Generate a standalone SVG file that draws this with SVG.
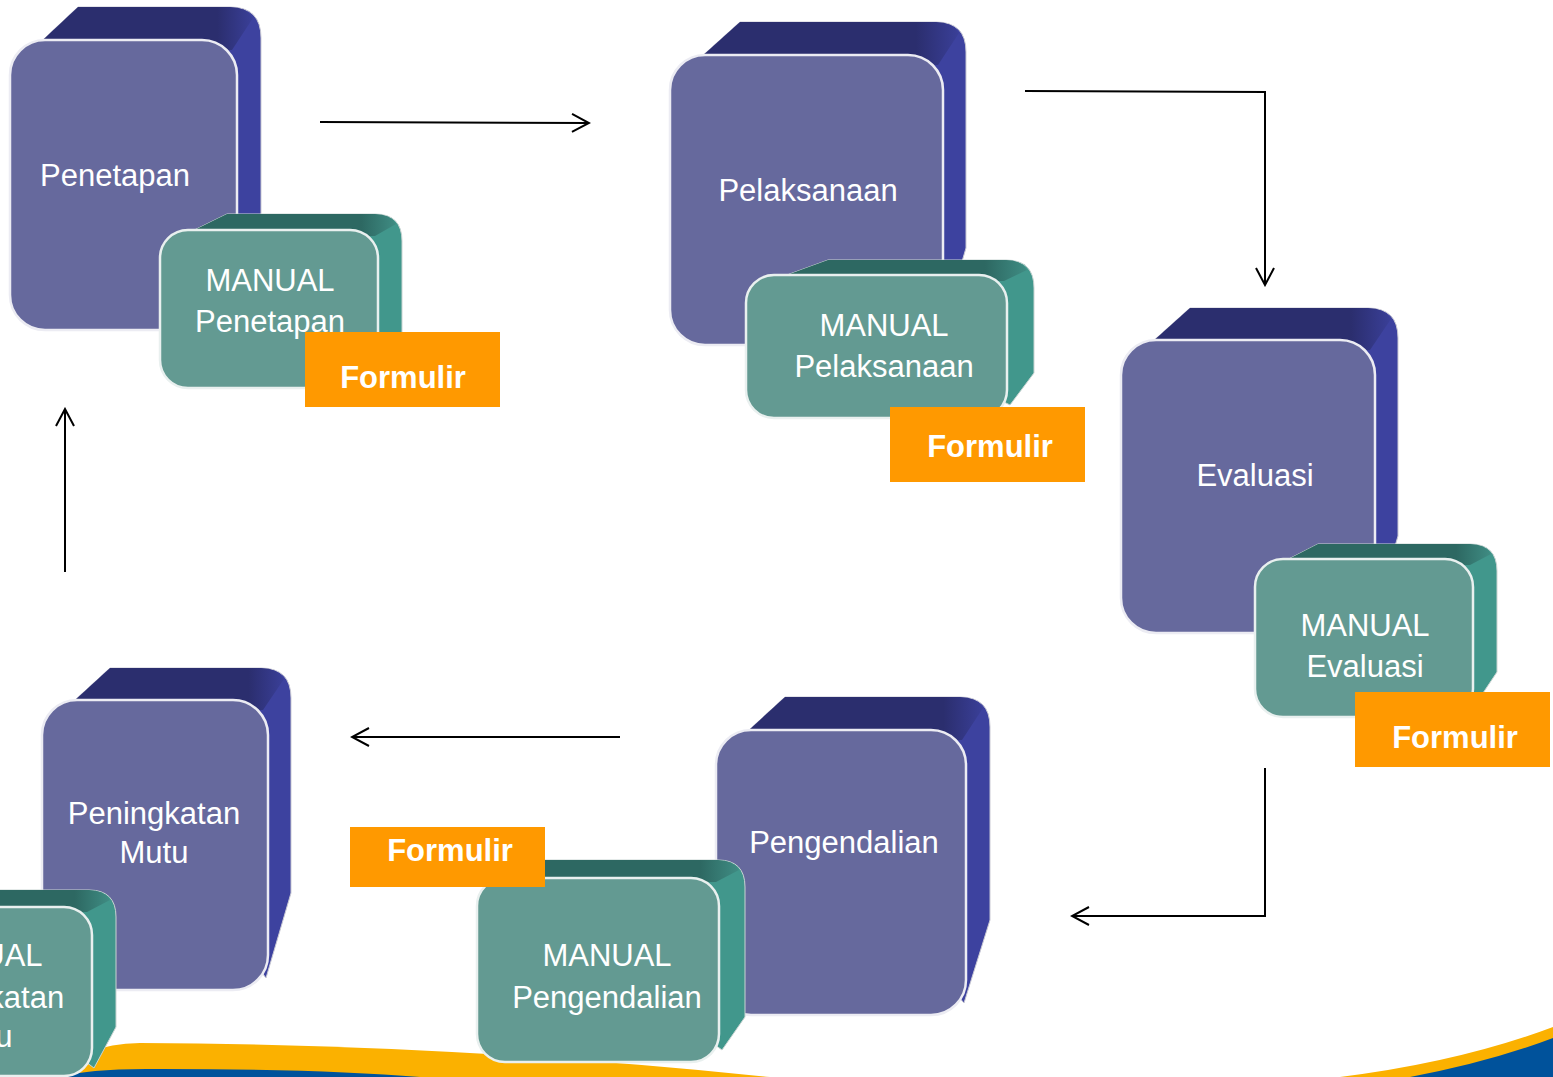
<svg xmlns="http://www.w3.org/2000/svg" width="1553" height="1077" viewBox="0 0 1553 1077">
<style>
.bk{fill:#3D429F;stroke:#c9c9d4;stroke-width:1}
.tp{fill:url(#gtp)}
.fr{fill:#66699D;stroke:#ececf3;stroke-width:2.5}
.mbk{fill:#41978C;stroke:#c9d4d2;stroke-width:1}
.mtp{fill:url(#gmtp)}
.mfr{fill:#639A92;stroke:#e9f0ef;stroke-width:2.5}
.frm{fill:#FF9900}
.t{font-family:"Liberation Sans",Arial,sans-serif;font-size:31px;fill:#fff;text-anchor:middle}
.tb{font-family:"Liberation Sans",Arial,sans-serif;font-size:31px;font-weight:bold;fill:#fff;text-anchor:middle}
.c{fill:none;stroke:#000;stroke-width:2}
</style>
<defs>
<linearGradient id="gtp" x1="0" y1="0" x2="1" y2="0">
<stop offset="0" stop-color="#2B2E6E"/>
<stop offset="0.84" stop-color="#2B2E6E"/>
<stop offset="1" stop-color="#3A3F98"/>
</linearGradient>
<linearGradient id="gmtp" x1="0" y1="0" x2="1" y2="0">
<stop offset="0" stop-color="#2D6862"/>
<stop offset="0.84" stop-color="#2D6862"/>
<stop offset="1" stop-color="#3F8C83"/>
</linearGradient>
<marker id="ah" viewBox="0 0 20 20" refX="18" refY="10" markerWidth="20" markerHeight="20" orient="auto" markerUnits="userSpaceOnUse">
<path d="M1,1 L18,10 L1,19" fill="none" stroke="#000" stroke-width="2"/>
</marker>
</defs>
<rect width="1553" height="1077" fill="#fff"/>
<g id="band">
<path d="M60,1077 Q80,1044 140,1043 Q450,1044 770,1077 Z" fill="#FBB100"/>
<path d="M60,1077 Q90,1068 160,1069 Q320,1069 420,1077 Z" fill="#00529B"/>
<path d="M1340,1077 Q1460,1062 1553,1027 L1553,1077 Z" fill="#FBB100"/>
<path d="M1410,1077 Q1490,1062 1553,1038 L1553,1077 Z" fill="#00529B"/>
</g>
<g id="connectors">
<path class="c" d="M320,122 L589,123" marker-end="url(#ah)"/>
<path class="c" d="M1025,91 L1265,92 L1265,285" marker-end="url(#ah)"/>
<path class="c" d="M1265,768 L1265,916 L1072,916" marker-end="url(#ah)"/>
<path class="c" d="M620,737 L352,737" marker-end="url(#ah)"/>
<path class="c" d="M65,572 L65,409" marker-end="url(#ah)"/>
</g>
<g id="penetapan">
<path class="bk" d="M30,52 L78,7 L230,7 Q261,7 261,38 L261,233 L235,318 Z"/>
<path class="tp" d="M30,52 L78,7 L230,7 Q246,7 253,18 L232,50 Z"/>
<rect class="fr" x="10" y="40" width="227" height="290" rx="35"/>
<text class="t" x="115" y="186">Penetapan</text>
</g>
<g id="manual-penetapan">
<path class="mbk" d="M178,238 L227,214 L375,214 Q402,214 402,241 L402,343 L380,376 Z"/>
<path class="mtp" d="M178,238 L227,214 L375,214 Q390,214 396,224 L375,236 Z"/>
<rect class="mfr" x="160" y="230" width="218" height="158" rx="28"/>
<text class="t" x="270" y="291">MANUAL</text>
<text class="t" x="270" y="332">Penetapan</text>
</g>
<g id="formulir-1">
<rect class="frm" x="305" y="332" width="195" height="75"/>
<text class="tb" x="403" y="388">Formulir</text>
</g>
<g id="pelaksanaan">
<path class="bk" d="M690,67 L740,22 L936,22 Q966,22 966,52 L966,248 L941,333 Z"/>
<path class="tp" d="M690,67 L740,22 L936,22 Q952,22 959,33 L938,65 Z"/>
<rect class="fr" x="670" y="55" width="273" height="290" rx="35"/>
<text class="t" x="808" y="201">Pelaksanaan</text>
</g>
<g id="manual-pelaksanaan">
<path class="mbk" d="M765,283 L828,260 L1006,260 Q1034,260 1034,288 L1034,373 L1010,405 Z"/>
<path class="mtp" d="M765,283 L828,260 L1006,260 Q1021,260 1027,270 L1004,281 Z"/>
<rect class="mfr" x="746" y="275" width="261" height="143" rx="28"/>
<text class="t" x="884" y="336">MANUAL</text>
<text class="t" x="884" y="377">Pelaksanaan</text>
</g>
<g id="formulir-2">
<rect class="frm" x="890" y="407" width="195" height="75"/>
<text class="tb" x="990" y="457">Formulir</text>
</g>
<g id="evaluasi">
<path class="bk" d="M1141,352 L1190,308 L1368,308 Q1398,308 1398,338 L1398,536 L1373,621 Z"/>
<path class="tp" d="M1141,352 L1190,308 L1368,308 Q1384,308 1391,319 L1370,350 Z"/>
<rect class="fr" x="1121" y="340" width="254" height="293" rx="35"/>
<text class="t" x="1255" y="486">Evaluasi</text>
</g>
<g id="manual-evaluasi">
<path class="mbk" d="M1273,567 L1318,544 L1470,544 Q1497,544 1497,571 L1497,672 L1475,705 Z"/>
<path class="mtp" d="M1273,567 L1318,544 L1470,544 Q1485,544 1491,554 L1470,565 Z"/>
<rect class="mfr" x="1255" y="559" width="218" height="158" rx="28"/>
<text class="t" x="1365" y="636">MANUAL</text>
<text class="t" x="1365" y="677">Evaluasi</text>
</g>
<g id="formulir-3">
<rect class="frm" x="1355" y="692" width="195" height="75"/>
<text class="tb" x="1455" y="748">Formulir</text>
</g>
<g id="pengendalian">
<path class="bk" d="M736,742 L785,697 L960,697 Q990,697 990,727 L990,920 L964,1003 Z"/>
<path class="tp" d="M736,742 L785,697 L960,697 Q976,697 983,708 L962,740 Z"/>
<rect class="fr" x="716" y="730" width="250" height="285" rx="35"/>
<text class="t" x="844" y="853">Pengendalian</text>
</g>
<g id="manual-pengendalian">
<path class="mbk" d="M495,886 L545,860 L718,860 Q745,860 745,887 L745,1017 L722,1050 Z"/>
<path class="mtp" d="M495,886 L545,860 L718,860 Q733,860 739,870 L716,882 Z"/>
<rect class="mfr" x="477" y="878" width="242" height="184" rx="28"/>
<text class="t" x="607" y="966">MANUAL</text>
<text class="t" x="607" y="1008">Pengendalian</text>
</g>
<g id="formulir-4">
<rect class="frm" x="350" y="827" width="195" height="60"/>
<text class="tb" x="450" y="861">Formulir</text>
</g>
<g id="peningkatan-mutu">
<path class="bk" d="M62,712 L110,668 L261,668 Q291,668 291,698 L291,893 L266,978 Z"/>
<path class="tp" d="M62,712 L110,668 L261,668 Q277,668 284,679 L263,710 Z"/>
<rect class="fr" x="42" y="700" width="226" height="290" rx="35"/>
<text class="t" x="154" y="824">Peningkatan</text>
<text class="t" x="154" y="863">Mutu</text>
</g>
<g id="manual-peningkatan-mutu">
<path class="mbk" d="M-110,915 L-60,890 L89,890 Q116,890 116,917 L116,1027 L94,1068 Z"/>
<path class="mtp" d="M-110,915 L-60,890 L89,890 Q104,890 110,900 L87,912 Z"/>
<rect class="mfr" x="-131" y="907" width="223" height="169" rx="28"/>
<text class="t" x="-22" y="966">MANUAL</text>
<text class="t" x="-22" y="1008">Peningkatan</text>
<text class="t" x="-22" y="1047">Mutu</text>
</g>
</svg>
